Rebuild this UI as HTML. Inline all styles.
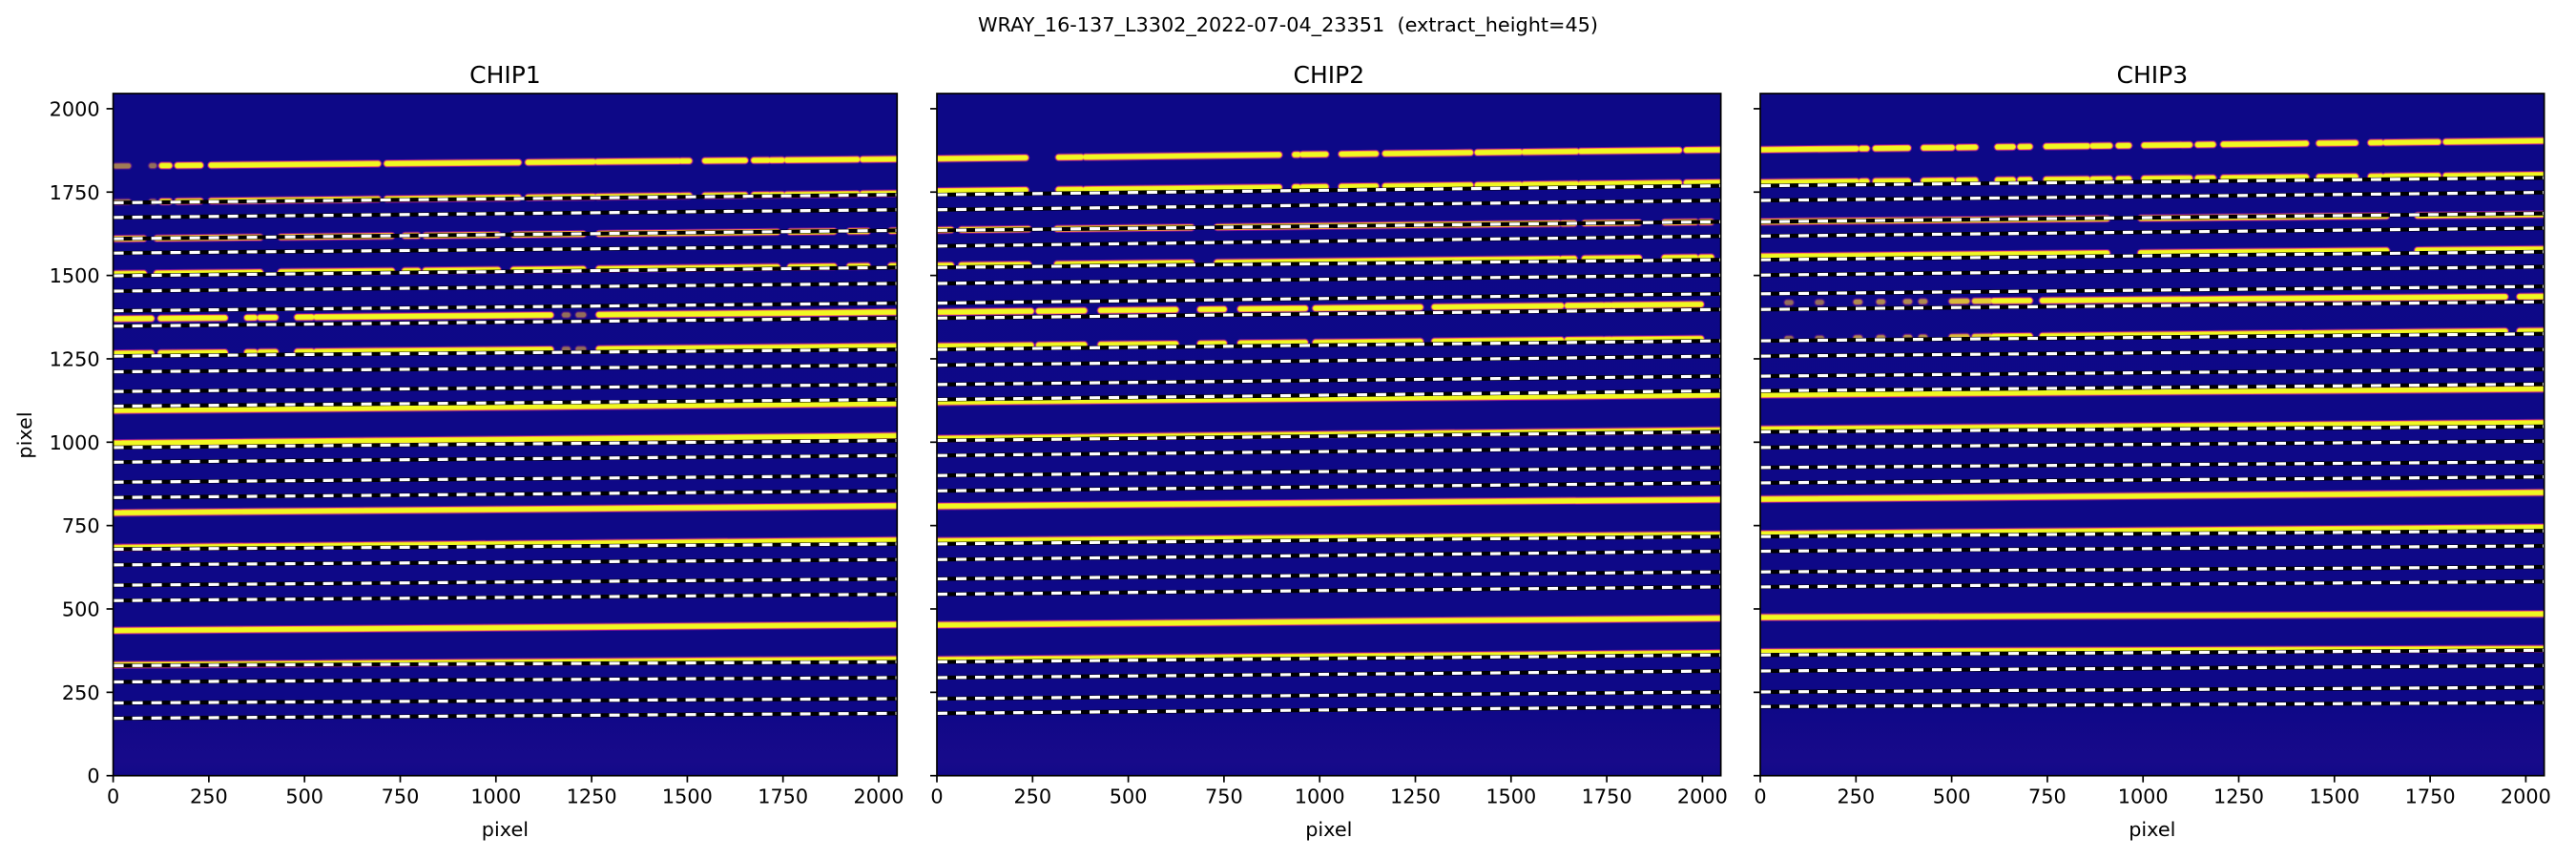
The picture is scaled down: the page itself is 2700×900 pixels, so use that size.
<!DOCTYPE html>
<html><head><meta charset="utf-8"><style>
html,body{margin:0;padding:0;background:#fff;}
svg{display:block;}
text{font-family:"DejaVu Sans","Liberation Sans",sans-serif;fill:#000;white-space:pre;}
</style></head><body>
<svg id="s" width="2700" height="900" xmlns="http://www.w3.org/2000/svg">
<text x="1350" y="33" font-size="20.8" text-anchor="middle" xml:space="preserve">WRAY_16-137_L3302_2022-07-04_23351  (extract_height=45)</text>
<text x="33" y="456" font-size="20.8" text-anchor="middle" transform="rotate(-90 33 456)">pixel</text>
</svg>
<script>
const NS="http://www.w3.org/2000/svg", S=document.getElementById('s');
function el(t,a,p){const e=document.createElementNS(NS,t);for(const k in a)e.setAttribute(k,a[k]);(p||S).appendChild(e);return e;}
const TOP=98, BOT=812.7, KX=0.4012, KY=0.3494, W=2048*KX;
const S1=[[6,40,.35],[100,107,.3],[127,147],[168,228],[256,692],[715,1059],[1084,1255],[1265,1478],[1485,1505],[1546,1651],[1674,1711],[1719,1748],[1760,1944],[1958,2048]];
const S3=[[6,80],[114,384],[438,728],[762,796],[816,1005],[1046,1228],[1269,1735],[1769,1883],[1924,1971],[2032,2048]];
const S5=[[6,100],[124,292],[350,370],[384,424],[481,519],[530,1143],[1179,1188,.3],[1215,1229,.3],[1269,2048]];
const T1=[[3,232],[318,377],[388,894],[935,944],[955,1016],[1057,1147],[1171,1394],[1412,1523],[1534,1671],[1682,1939],[1958,2048]];
const T3=[[3,37],[64,239],[314,665],[732,1624],[1634,1665],[1692,1834],[1901,1982],[1996,2023]];
const T5=[[3,246],[266,385],[428,624],[688,750],[793,962],[989,1263],[1300,1631],[1647,1739],[1746,1759],[1766,1996]];
const U1=[[1,251],[264,278],[301,386],[427,501],[518,562],[620,660],[679,704],[747,855],[868,913],[936,963],[1003,1122],[1143,1183],[1210,1426],[1460,1555],[1595,1622],[1633,1771],[1791,2048]];
const U3=[[1,906],[994,1636],[1717,2048]];
const U5=[[70,80,.3],[150,160,.3],[250,260,.4],[310,320,.4],[380,390,.4],[420,430,.4],[500,540,.6],[560,600,.7],[610,704],[737,1946],[1984,2048]];
const F=[[0,2048]];
const chips=[
 {x0:118.6,name:'CHIP1',lab:true,
  tr:[[1828,1849,S1],[1720,1746,S1],[1610,1634,S3],[1505,1529,S3],[1370,1390,S5],[1266,1288,S5],[1095,1116,F],[997,1019,F],[788,809,F],[684,706,F],[435,453,F],[332,349,F]],
  dl:[1718,1674,1610,1567,1499,1453,1394,1348,1258,1211,1152,1108,984,940,880,834,679,632,571,525,330,281,218,172],
  dr:[1742,1697,1635,1588,1524,1476,1417,1372,1278,1231,1173,1128,1005,960,900,854,695,648,590,544,341,294,231,187]},
 {x0:982,name:'CHIP2',
  tr:[[1850,1877,T1],[1753,1779,T1],[1636,1661,T3],[1530,1555,T3],[1390,1414,T5],[1288,1311,T5],[1120,1142,F],[1011,1036,F],[808,828,F],[704,723,F],[452,472,F],[348,368,F]],
  dl:[1742,1697,1635,1588,1524,1476,1417,1372,1278,1231,1173,1128,1005,960,900,854,695,648,590,544,341,294,231,187],
  dr:[1769,1725,1661,1618,1547,1501,1445,1398,1304,1258,1198,1154,1031,984,924,878,717,673,611,566,362,314,251,207]},
 {x0:1845,name:'CHIP3',
  tr:[[1877,1904,U1],[1779,1802,U1],[1661,1683,U3],[1557,1579,U3],[1418,1437,U5],[1310,1334,U5],[1142,1160,F],[1039,1058,F],[829,849,F],[725,745,F],[475,485,F],[371,381,F]],
  dl:[1769,1725,1661,1618,1547,1501,1445,1398,1304,1258,1198,1154,1031,984,924,878,717,673,611,566,362,314,251,207],
  dr:[1793,1749,1686,1642,1571,1526,1467,1421,1325,1278,1219,1174,1047,1003,941,896,734,689,626,582,376,330,265,219]}
];
const defs=el('defs',{});
const g=el('linearGradient',{id:'bg',x1:0,y1:0,x2:0,y2:1},defs);
el('stop',{offset:'0','stop-color':'#0d0887'},g);
el('stop',{offset:'0.9','stop-color':'#0e0887'},g);
el('stop',{offset:'0.95','stop-color':'#150989'},g);
el('stop',{offset:'0.98','stop-color':'#170a8a'},g);
el('stop',{offset:'1','stop-color':'#120988'},g);
chips.forEach((c,i)=>{
  const X=d=>c.x0+d*KX, Y=d=>BOT-d*KY;
  const cp=el('clipPath',{id:'c'+i},defs);
  el('rect',{x:c.x0,y:TOP,width:W,height:BOT-TOP},cp);
  el('rect',{x:c.x0,y:TOP,width:W,height:BOT-TOP,fill:'url(#bg)'});
  const G=el('g',{'clip-path':'url(#c'+i+')'});
  c.tr.forEach(t=>{
    const [l,r,segs]=t, yy=x=>Y(l+(r-l)*x/2048);
    [[8.5,'#9c179e',.75],[6.5,'#f89540',1],[4.8,'#f0f921',1]].forEach(([w,col,o])=>{
      segs.forEach(s=>{
        const op=(s[2]||1)*o;
        el('line',{x1:X(s[0]),y1:yy(s[0]),x2:X(s[1]),y2:yy(s[1]),stroke:col,'stroke-width':w,'stroke-linecap':'round','stroke-opacity':op},G);
      });
    });
  });
  c.dl.forEach((l,k)=>{
    const r=c.dr[k];
    el('line',{x1:X(0),y1:Y(l),x2:X(2048),y2:Y(r),stroke:'#000','stroke-width':4.2},G);
    el('line',{x1:X(0),y1:Y(l),x2:X(2048),y2:Y(r),stroke:'#fff','stroke-width':3.2,'stroke-dasharray':'11 9'},G);
  });
  el('rect',{x:c.x0,y:TOP,width:W,height:BOT-TOP,fill:'none',stroke:'#000','stroke-width':1.7});
  for(let v=0;v<=2000;v+=250){
    const x=X(v);
    el('line',{x1:x,y1:BOT,x2:x,y2:BOT+7,stroke:'#000','stroke-width':1.7});
    const t=el('text',{x:x,y:BOT+29,'font-size':20.8,'text-anchor':'middle'});t.textContent=v;
    const y=Y(v);
    el('line',{x1:c.x0,y1:y,x2:c.x0-7,y2:y,stroke:'#000','stroke-width':1.7});
    if(c.lab){const u=el('text',{x:c.x0-14,y:y+7.5,'font-size':20.8,'text-anchor':'end'});u.textContent=v;}
  }
  const xl=el('text',{x:c.x0+W/2,y:876,'font-size':20.8,'text-anchor':'middle'});xl.textContent='pixel';
  const tl=el('text',{x:c.x0+W/2,y:87,'font-size':25,'text-anchor':'middle'});tl.textContent=c.name;
});
</script>
</body></html>
